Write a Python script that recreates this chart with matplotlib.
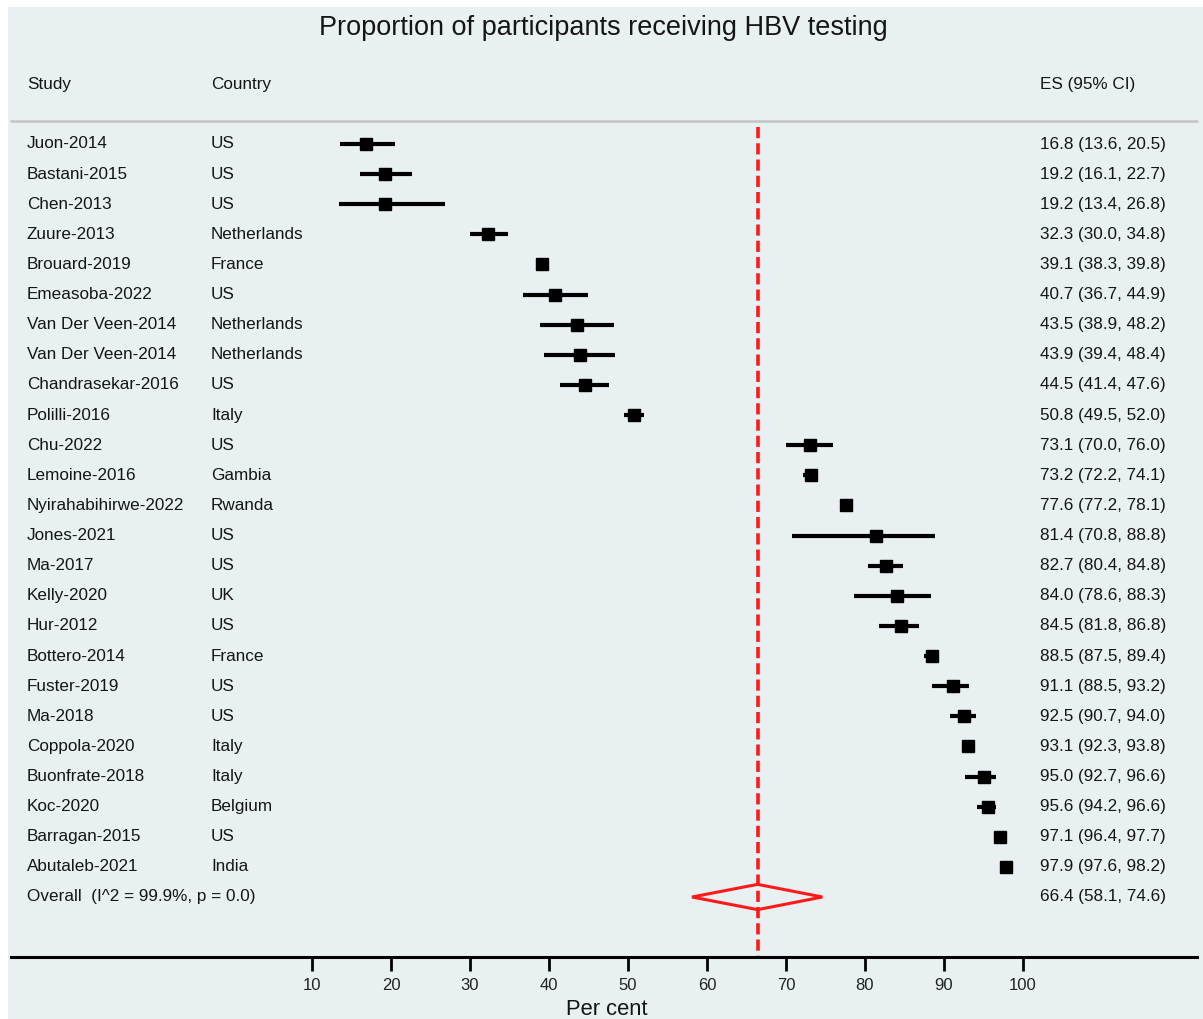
import matplotlib
matplotlib.use("Agg")
import matplotlib.pyplot as plt
from matplotlib.patches import Polygon, Rectangle

plt.rcParams['font.family'] = ['Liberation Sans', 'DejaVu Sans']

# study rows, top to bottom
studies = ["Juon-2014", "Bastani-2015", "Chen-2013", "Zuure-2013", "Brouard-2019",
           "Emeasoba-2022", "Van Der Veen-2014", "Van Der Veen-2014", "Chandrasekar-2016",
           "Polilli-2016", "Chu-2022", "Lemoine-2016", "Nyirahabihirwe-2022", "Jones-2021",
           "Ma-2017", "Kelly-2020", "Hur-2012", "Bottero-2014", "Fuster-2019", "Ma-2018",
           "Coppola-2020", "Buonfrate-2018", "Koc-2020", "Barragan-2015", "Abutaleb-2021"]
countries = ["US", "US", "US", "Netherlands", "France", "US", "Netherlands", "Netherlands",
             "US", "Italy", "US", "Gambia", "Rwanda", "US", "US", "UK", "US", "France", "US",
             "US", "Italy", "Italy", "Belgium", "US", "India"]
es = [16.8, 19.2, 19.2, 32.3, 39.1, 40.7, 43.5, 43.9, 44.5, 50.8, 73.1, 73.2, 77.6, 81.4,
      82.7, 84.0, 84.5, 88.5, 91.1, 92.5, 93.1, 95.0, 95.6, 97.1, 97.9]
lo = [13.6, 16.1, 13.4, 30.0, 38.3, 36.7, 38.9, 39.4, 41.4, 49.5, 70.0, 72.2, 77.2, 70.8,
      80.4, 78.6, 81.8, 87.5, 88.5, 90.7, 92.3, 92.7, 94.2, 96.4, 97.6]
hi = [20.5, 22.7, 26.8, 34.8, 39.8, 44.9, 48.2, 48.4, 47.6, 52.0, 76.0, 74.1, 78.1, 88.8,
      84.8, 88.3, 86.8, 89.4, 93.2, 94.0, 93.8, 96.6, 96.6, 97.7, 98.2]

overall_label = "Overall  (I^2 = 99.9%, p = 0.0)"
overall_es, overall_lo, overall_hi = 66.4, 58.1, 74.6
xticks = [10, 20, 30, 40, 50, 60, 70, 80, 90, 100]

W, H = 1203, 1019
fig = plt.figure(figsize=(W / 100, H / 100), dpi=100)
fig.patch.set_facecolor("white")
bg = "#e8f0f2"

ax = fig.add_axes([0, 0, 1, 1])
ax.patch.set_visible(False)
ax.add_patch(Rectangle((8 / W, -0.02), 1, (H - 7) / H + 0.02, transform=fig.transFigure,
                       facecolor=bg, edgecolor="none", zorder=-10, clip_on=False))
# pixel mapping: x=0 at 233px, 7.9 px per unit; row 0 at 144px, 30.12 px per row
ax.set_xlim(-233 / 7.9, (W - 233) / 7.9)
ax.set_ylim((H - 144) / 30.12, -144 / 30.12)

txt = "#151515"
fs = 12.3
x_study, x_country, x_es = -26.1, -2.8, 102.15

# header
ax.text(46.9, -3.85, "Proportion of participants receiving HBV testing", ha="center",
        va="center", fontsize=19.5, color=txt)
ax.text(x_study, -1.99, "Study", fontsize=fs, va="center", color=txt)
ax.text(x_country, -1.99, "Country", fontsize=fs, va="center", color=txt)
ax.text(x_es, -1.99, "ES (95% CI)", fontsize=fs, va="center", color=txt)
ax.plot([-28.2, 122.1], [-0.76, -0.76], color="#c4c4c4", lw=1.8, solid_capstyle="butt")

for i in range(len(studies)):
    ax.plot([lo[i], hi[i]], [i, i], color="black", lw=3.0, solid_capstyle="butt", zorder=3)
    ax.plot(es[i], i, marker="s", color="black", markersize=8.8, zorder=4)
    ax.text(x_study, i, studies[i], fontsize=fs, va="center", color=txt)
    ax.text(x_country, i, countries[i], fontsize=fs, va="center", color=txt)
    ax.text(x_es, i, "%.1f (%.1f, %.1f)" % (es[i], lo[i], hi[i]), fontsize=fs,
            va="center", color=txt)

r = len(studies)
ax.text(x_study, r, overall_label, fontsize=fs, va="center", color=txt)
ax.text(x_es, r, "%.1f (%.1f, %.1f)" % (overall_es, overall_lo, overall_hi), fontsize=fs,
        va="center", color=txt)
diamond = Polygon([(overall_lo, r), (overall_es, r - 0.42), (overall_hi, r),
                   (overall_es, r + 0.42)], closed=True, fill=False, edgecolor="#ff1a1a",
                  lw=2.2, zorder=5)
ax.add_patch(diamond)

ax.plot([overall_es, overall_es], [-0.56, 26.99], color="#ff1a1a", lw=2.6,
        linestyle=(0, (3.1, 1.4)), zorder=2)

# x axis
for s in ["top", "left", "right"]:
    ax.spines[s].set_visible(False)
ax.spines["bottom"].set_position(("data", 26.99))
ax.spines["bottom"].set_bounds(-28.1, 122.0)
ax.spines["bottom"].set_linewidth(2.2)
ax.set_yticks([])
ax.set_xticks(xticks)
ax.set_xticklabels([str(t) for t in xticks])
ax.tick_params(axis="x", direction="out", length=10, width=2, pad=5.5, labelsize=12,
               labelcolor="#222222")
ax.text(47.3, 28.72, "Per cent", ha="center", va="center", fontsize=15.8, color=txt)

fig.savefig("out.png", dpi=100, facecolor=fig.get_facecolor())
